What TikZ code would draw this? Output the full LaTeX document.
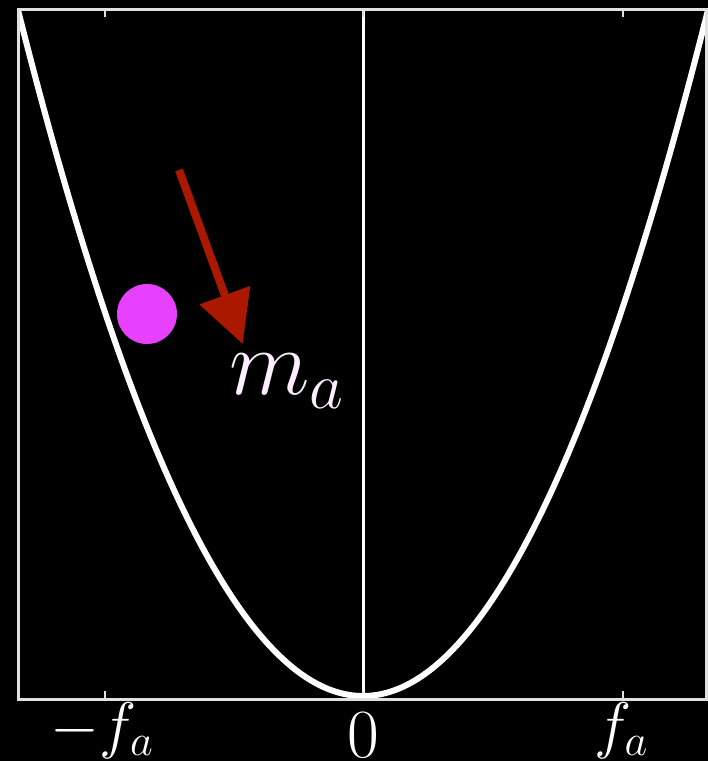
\documentclass[tikz,border=0pt]{standalone}
\usepackage{fix-cm}
\usetikzlibrary{arrows.meta}
\definecolor{frameGray} {RGB}{225,225,225}
\definecolor{ballMagenta}{RGB}{232, 64,255}
\definecolor{forceRed}  {RGB}{170, 24,  0}
\definecolor{labelPink} {RGB}{253,238,255}
\tikzset{
  %% axes box and ticks
  axisframe/.style={draw=frameGray, line width=3pt},
  axistick/.style={draw=frameGray, line width=1.5pt},
  %% centre line
  midline/.style={draw=white, line width=3pt},
  %% potential curve
  potential/.style={draw=white, line width=6pt},
  %% the ball
  ball/.style={
    circle, minimum size=60pt, inner sep=0pt,
    fill=ballMagenta, draw=none
  },
  %% push arrow
  arrF/.style={
    -{Triangle[length=52pt,width=52pt]},
    line width=8pt, color=forceRed
  },
  ticklbl/.style={
    text=white, inner sep=0pt, anchor=base,
    font=\fontsize{63}{72}\selectfont
  },
  masslbl/.style={
    text=labelPink, inner sep=0pt, anchor=base west,
    font=\fontsize{94}{104}\selectfont
  }
}
\begin{document}
\begin{tikzpicture}[x=1pt, y=-1pt]

%% background, fixes the picture size
\path[use as bounding box, fill=black] (0,0) rectangle (708,761);

%% ═══════════════════════════════════════════════════════════
%%  AXES
%% ═══════════════════════════════════════════════════════════

\draw[midline] (363,9) -- (363,699);

\foreach \tx in {105, 363, 623} {
  \draw[axistick] (\tx,9) -- (\tx,17);
  \draw[axistick] (\tx,699) -- (\tx,691);
}

%% potential, clipped to the box
\begin{scope}
  \clip (18,9) rectangle (706,699);
  \draw[potential] plot[domain=-345:345, samples=120, smooth]
    ({363+\x}, {696-686*(\x/345)^2});
\end{scope}

\draw[axisframe] (18,9) rectangle (706,699);

%% ═══════════════════════════════════════════════════════════
%%  BALL AND PUSH
%% ═══════════════════════════════════════════════════════════

\node[ball] (ball) at (147,314) {};

\coordinate (pushTail) at (179,170);
\coordinate (pushTip)  at (242.7,344);
\draw[arrF] (pushTail) -- (pushTip);

\node[masslbl] (mass) at (229,394) {$m_a$};

%% ═══════════════════════════════════════════════════════════
%%  TICK LABELS
%% ═══════════════════════════════════════════════════════════

\node[ticklbl] (lblMinus) at (102,746) {$-f_a$};
\node[ticklbl, font=\fontsize{69}{78}\selectfont]
  (lblZero) at (363,757) {$0$};
\node[ticklbl] (lblPlus)  at (621,746) {$f_a$};

\end{tikzpicture}
\end{document}
